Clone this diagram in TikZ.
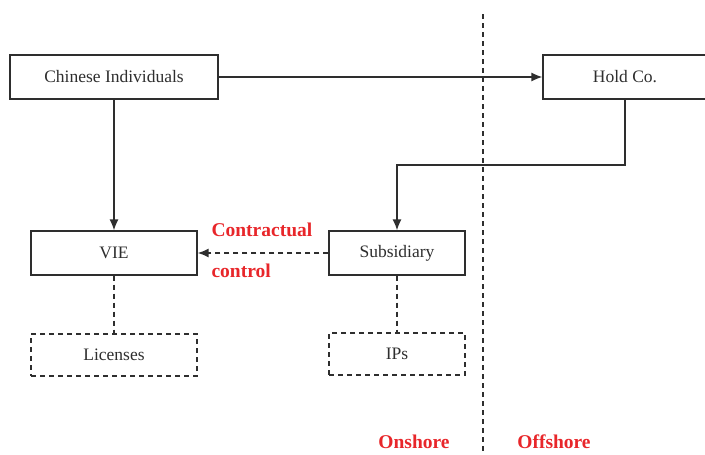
\documentclass[tikz,border=0pt]{standalone}
\usepackage{fontspec}
\setmainfont{Liberation Serif}
\usetikzlibrary{arrows,arrows.meta,positioning,shapes}
\definecolor{darkline}{HTML}{2E2E2E}
\definecolor{labelred}{HTML}{E8262A}

\begin{document}
\begin{tikzpicture}[x=1pt,y=-1pt,
  entity/.style={draw=darkline,text=darkline,line width=1.2pt,minimum height=44pt,inner sep=0pt,font=\fontsize{17.5}{20}\selectfont},
  asset/.style={entity,minimum height=42pt,dash pattern=on 5pt off 4pt},
  link/.style={darkline,line width=1.5pt},
  weak/.style={darkline,line width=1.2pt,dash pattern=on 5pt off 4pt},
  tip/.style={-{Latex[length=11pt,width=9pt]}},
  note/.style={text=labelred,font=\bfseries\fontsize{19.5}{22}\selectfont}]
\useasboundingbox (0,0) rectangle (705,455);
% entities
\node[entity,minimum width=208pt] (chinese) at (114,77) {Chinese Individuals};
\node[entity,minimum width=164pt] (holdco) at (625,77) {Hold Co.};
\node[entity,minimum width=166pt] (vie) at (114,253) {VIE};
\node[entity,minimum width=136pt] (subsidiary) at (397,253) {Subsidiary};
% assets
\node[asset,minimum width=166pt] (licenses) at (114,355) {Licenses};
\node[asset,minimum width=136pt] (ips) at (397,354) {IPs};
% connectors
\draw[link,tip] (chinese) -- (holdco);
\draw[link,tip] (chinese) -- (vie);
\draw[link,tip] (holdco.south) -- ++(0,65.5) -| (subsidiary.north);
\draw[weak,line width=1.6pt,tip] (subsidiary) -- (vie);
\draw[weak] (vie) -- (licenses);
\draw[weak] (subsidiary) -- (ips);
\node[note,anchor=west] (contractual) at (208,230) {Contractual};
\node[note,anchor=west] (control) at (208,271) {control};
% border line
\coordinate (bordertop) at (483,14);
\coordinate (borderbottom) at (483,455);
\draw[weak] (bordertop) -- (borderbottom);
\node[note] (onshore) at (414,442) {Onshore};
\node[note] (offshore) at (554,442) {Offshore};
\end{tikzpicture}
\end{document}
